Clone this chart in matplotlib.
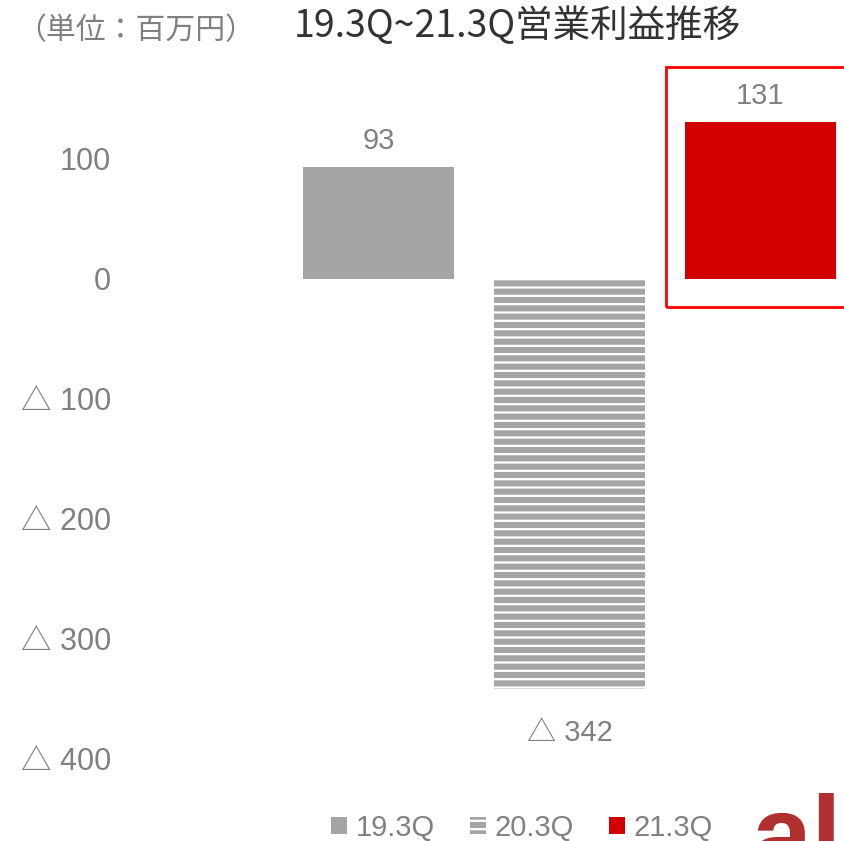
import numpy as np
import matplotlib.pyplot as plt
from matplotlib.patches import Rectangle, Patch

plt.rcParams['font.family'] = ['Liberation Sans', 'Noto Sans CJK JP', 'DejaVu Sans']
plt.rcParams['hatch.linewidth'] = 1.6

# data
periods = ['19.3Q', '20.3Q', '21.3Q']
profit = [93, -342, 131]
labels = ['93', '△ 342', '131']
tick_vals = [100, 0, -100, -200, -300, -400]
tick_labels = ['100', '0', '△ 100', '△ 200', '△ 300', '△ 400']

W, H = 845, 841
GRAY_TXT = '#808080'

fig = plt.figure(figsize=(W / 100, H / 100), dpi=100)
# axes placed so that 0 sits at y=279px, 120px per 100
ax_left, ax_right = 150, 845
ax_top, ax_bot = 60, 790
ax = fig.add_axes([ax_left / W, (H - ax_bot) / H, (ax_right - ax_left) / W, (ax_bot - ax_top) / H])
ax.set_xlim((ax_left - 378.5) / 191, (ax_right - 378.5) / 191)
ax.set_ylim(-(ax_bot - 279) / 1.2, (279 - ax_top) / 1.2)

x = np.arange(len(periods))
bars = ax.bar(x, profit, width=151 / 191, color=['#a5a5a5', '#a5a5a5', '#d20000'], linewidth=0)
bars[1].set_hatch('--')
bars[1].set_edgecolor('white')
bars[1].set_linewidth(0)

for i, (v, t) in enumerate(zip(profit, labels)):
    if v >= 0:
        ax.text(i, v + 10, t, ha='center', va='bottom', fontsize=21, color=GRAY_TXT)
    else:
        ax.text(i, v - 25, t, ha='center', va='top', fontsize=21, color=GRAY_TXT)

ax.set_yticks(tick_vals)
ax.set_yticklabels(tick_labels, fontsize=22, color=GRAY_TXT)
ax.tick_params(axis='y', length=0, pad=28)
ax.set_xticks([])
for s in ax.spines.values():
    s.set_visible(False)

# red frame around latest bar
frame = Rectangle((666 / W, (H - 307) / H), 190 / W, 240 / H, transform=fig.transFigure,
                  fill=False, edgecolor='#ff0000', linewidth=2)
fig.patches.append(frame)

fig.text(16 / W, 1 - 31 / H, '（単位：百万円）', fontsize=21.5, color=GRAY_TXT,
         family=['Noto Sans CJK JP'], va='center', ha='left')
fig.text(517 / W, 1 - 27 / H, '19.3Q~21.3Q営業利益推移', fontsize=27, color='#333333',
         family=['Noto Sans CJK JP'], va='center', ha='center')

handles = [Patch(facecolor='#a5a5a5'),
           Patch(facecolor='#a5a5a5', hatch='--', edgecolor='white', linewidth=0),
           Patch(facecolor='#d20000')]
fig.legend(handles, periods, loc='center', bbox_to_anchor=(522 / W, 1 - 828 / H), ncol=3,
           frameon=False, fontsize=21, labelcolor=GRAY_TXT, handlelength=0.55, handleheight=0.55,
           handletextpad=0.3, columnspacing=1.2)

# logo fragment
fig.text(752 / W, -30 / H, 'al', fontsize=78, fontweight='bold', color='#b03030', ha='left', va='baseline')

fig.savefig('out.png', dpi=100)
